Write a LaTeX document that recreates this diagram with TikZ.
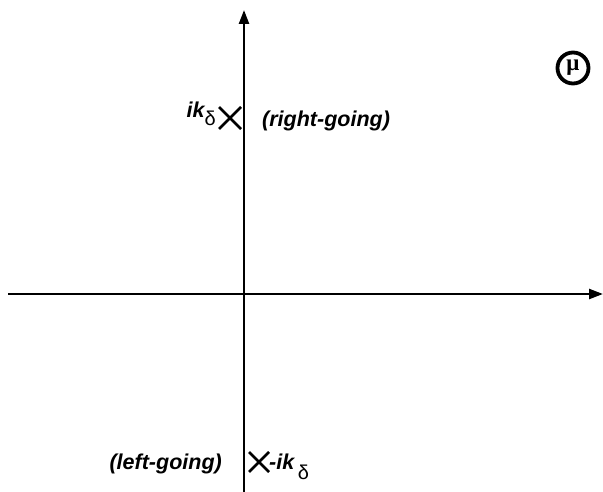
\documentclass[tikz,border=0pt]{standalone}
\usepackage{fontspec}
\setmainfont{Liberation Sans}
\newfontfamily\muserif{Liberation Serif}
\usetikzlibrary{arrows.meta,calc}
\tikzset{
  axis/.style={line width=2.4pt,-{Triangle[length=14pt,width=10pt]}},
  lbl/.style={font=\fontsize{21.5}{24}\selectfont\bfseries\itshape, inner sep=0pt},
  klbl/.style={font=\fontsize{21.5}{24}\selectfont\bfseries\itshape, inner sep=0pt},
  crossmark/.style={line width=2.6pt}
}
\newcommand{\dsub}{\normalfont\fontsize{20}{20}\selectfont δ}
\begin{document}
\begin{tikzpicture}[x=1pt,y=-1pt]
\useasboundingbox (0,0) rectangle (603,492);
\coordinate (xl) at (8,294);
\coordinate (xr) at (603,294);
\coordinate (yb) at (244,492);
\coordinate (yt) at (244,10);
\draw[axis] (xl) -- (xr);
\draw[axis] (yb) -- (yt);
% upper pole
\coordinate (p1) at (230,118);
\draw[crossmark] ($(p1)+(-11,-11)$) -- ($(p1)+(11,11)$);
\draw[crossmark] ($(p1)+(-11,11)$) -- ($(p1)+(11,-11)$);
\node[klbl, anchor=base east] (l1) at (216,118) {ik\raisebox{-0.7ex}{\dsub}};
\node[lbl, anchor=west] (r1) at (262,121) {(right-going)};
% lower pole
\coordinate (p2) at (259,462);
\draw[crossmark] ($(p2)+(-10,-10)$) -- ($(p2)+(10,10)$);
\draw[crossmark] ($(p2)+(-10,10)$) -- ($(p2)+(10,-10)$);
\node[klbl, anchor=base west] (l2) at (269,469) {-ik\,\raisebox{-0.9ex}{\dsub}};
\node[lbl, anchor=east] (r2) at (222,464) {(left-going)};
% mu
\node[draw, circle, line width=3.8pt, minimum size=31pt, inner sep=0pt, font=\muserif\bfseries\fontsize{23}{23}\selectfont] (mu) at (573,68) {\raisebox{0.3ex}{μ}};
\end{tikzpicture}
\end{document}
